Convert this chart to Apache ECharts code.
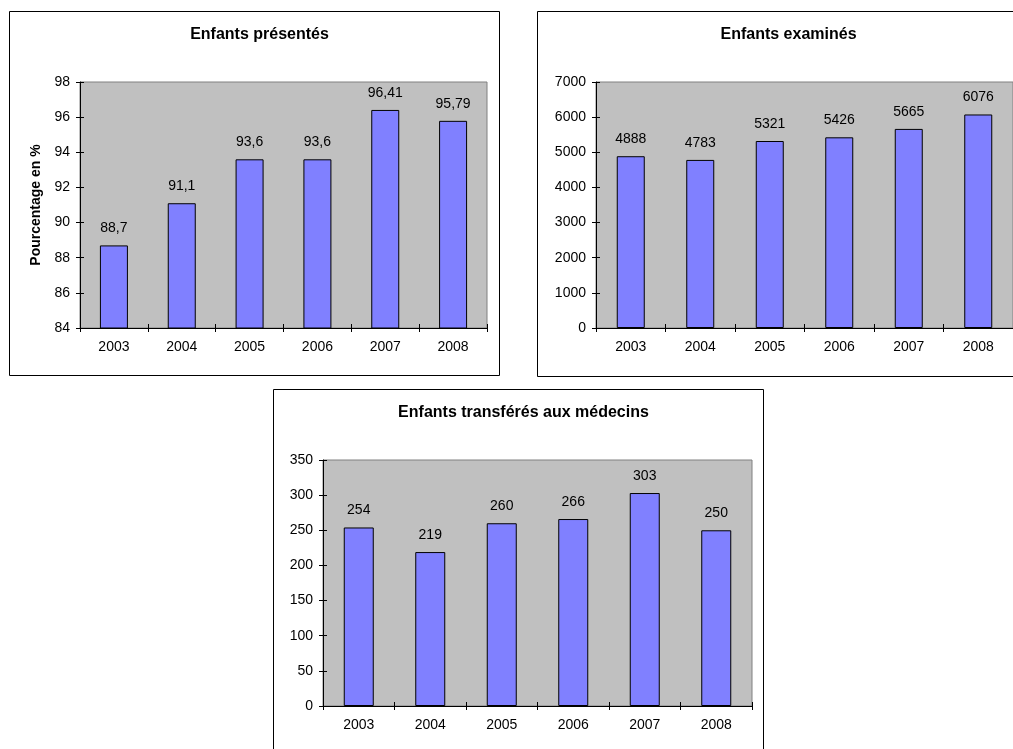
<!DOCTYPE html>
<html>
<head>
<meta charset="utf-8">
<script src="https://cdn.jsdelivr.net/npm/echarts@6/dist/echarts.min.js"></script>
<style>
html,body{margin:0;padding:0;background:#fff;overflow:hidden;}
#c{width:1013px;height:749px;}
</style>
</head>
<body>
<div id="c"></div>
<script>
var years = ['2003', '2004', '2005', '2006', '2007', '2008'];
var presentes = [88.7, 91.1, 93.6, 93.6, 96.41, 95.79];
var examines = [4888, 4783, 5321, 5426, 5665, 6076];
var transferes = [254, 219, 260, 266, 303, 250];
var titles = ['Enfants présentés', 'Enfants examinés', 'Enfants transférés aux médecins'];
var yName1 = 'Pourcentage en %';

var FONT = '"Liberation Sans", Arial, sans-serif';
var chart = echarts.init(document.getElementById('c'), null, {renderer: 'canvas'});

var grids = [
  {left: 80, top: 82, width: 407, height: 246},
  {left: 596, top: 82, width: 420, height: 246},
  {left: 323, top: 460, width: 429, height: 246}
];
var boxes = [
  {x: 9.5, y: 11.5, w: 490, h: 364},
  {x: 537.5, y: 11.5, w: 492, h: 365},
  {x: 273.5, y: 389.5, w: 490, h: 400}
];
var yRanges = [
  {min: 84, max: 98, interval: 2},
  {min: 0, max: 7000, interval: 1000},
  {min: 0, max: 350, interval: 50}
];
var datas = [presentes, examines, transferes];

var option = {
  animation: false,
  backgroundColor: '#fff',
  textStyle: {fontFamily: FONT},
  title: grids.map(function (g, i) {
    var b = boxes[i];
    return {
      text: titles[i],
      left: b.x + b.w / 2,
      top: b.y + 10,
      textAlign: 'center',
      textStyle: {fontFamily: FONT, fontSize: 16, fontWeight: 'bold', color: '#000'}
    };
  }),
  graphic: boxes.map(function (b) {
    return {
      type: 'rect', z: -10, silent: true,
      shape: {x: b.x, y: b.y, width: b.w, height: b.h},
      style: {fill: '#fff', stroke: '#000', lineWidth: 1}
    };
  }),
  grid: grids.map(function (g) {
    return {
      left: g.left, top: g.top, width: g.width, height: g.height,
      show: true, backgroundColor: '#C0C0C0', borderColor: '#808080', borderWidth: 1
    };
  }),
  xAxis: [],
  yAxis: [],
  series: []
};

grids.forEach(function (g, i) {
  option.xAxis.push({
    type: 'category', gridIndex: i, data: years, position: 'bottom',
    axisLine: {show: true, lineStyle: {color: '#000', width: 1}},
    axisTick: {show: true, length: 4, alignWithLabel: false, lineStyle: {color: '#000'}},
    axisLabel: {fontFamily: FONT, fontSize: 14, color: '#000', margin: 12},
    splitLine: {show: false}
  });
  option.xAxis.push({
    type: 'category', gridIndex: i, data: years, position: 'bottom',
    axisLine: {show: false},
    axisTick: {show: true, inside: true, length: 4, lineStyle: {color: '#000'}},
    axisLabel: {show: false},
    splitLine: {show: false}
  });
  var r = yRanges[i];
  var y = {
    type: 'value', gridIndex: i, min: r.min, max: r.max, interval: r.interval,
    axisLine: {show: true, lineStyle: {color: '#000', width: 1}},
    axisTick: {show: true, length: 4, lineStyle: {color: '#000'}},
    axisLabel: {fontFamily: FONT, fontSize: 14, color: '#000', margin: 10,
      formatter: function (v) { return String(v); }},
    splitLine: {show: false}
  };
  if (i === 0) {
    y.name = yName1;
    y.nameLocation = 'middle';
    y.nameGap = 37;
    y.nameTextStyle = {fontFamily: FONT, fontSize: 14, fontWeight: 'bold', color: '#000'};
  }
  option.yAxis.push(y);
  option.yAxis.push({
    type: 'value', gridIndex: i, min: r.min, max: r.max, interval: r.interval,
    position: 'left',
    axisLine: {show: false},
    axisTick: {show: true, inside: true, length: 4, lineStyle: {color: '#000'}},
    axisLabel: {show: false},
    splitLine: {show: false}
  });
  option.series.push({
    type: 'bar', xAxisIndex: i * 2, yAxisIndex: i * 2,
    data: datas[i],
    barWidth: i === 2 ? 30 : 28,
    itemStyle: {color: '#8080FF', borderColor: '#000', borderWidth: 1},
    label: {
      show: true, position: 'top', distance: 10,
      fontFamily: FONT, fontSize: 14, color: '#000',
      formatter: function (p) { return String(p.value).replace('.', ','); }
    }
  });
});

chart.setOption(option);
</script>
</body>
</html>
